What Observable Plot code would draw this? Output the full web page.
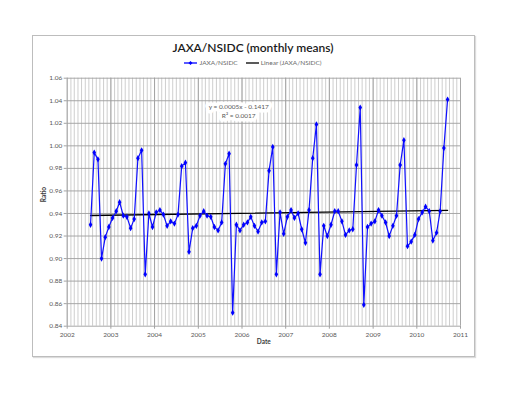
<!DOCTYPE html>
<html><head><meta charset="utf-8">
<script src="https://cdn.jsdelivr.net/npm/d3@7"></script>
<script src="https://cdn.jsdelivr.net/npm/@observablehq/plot@0.6"></script>
<style>
body{margin:0;background:#fff;}
#wrap{position:relative;width:512px;height:396px;font-family:Lato,"Open Sans",sans-serif;overflow:hidden;}
#frame{position:absolute;left:32px;top:35px;width:441px;height:320px;border:1px solid #bdbdbd;box-shadow:1px 1px 1px #dcdcdc;pointer-events:none;}
#title{position:absolute;left:0;width:506px;top:40px;text-align:center;font-size:12px;font-weight:600;color:#1a1a1a;}
#legend{position:absolute;left:0;width:506px;top:59px;text-align:center;font-size:6.5px;color:#6a6a6a;}
#legend span{display:inline-flex;align-items:center;margin:0 4px;}
#legend svg{margin-right:2px;}
</style></head><body><div id="wrap"><div id="title">JAXA/NSIDC (monthly means)</div>
<div id="legend"><span><svg width="13" height="6"><line x1="0" x2="13" y1="3" y2="3" stroke="#0000ff" stroke-width="1.3"/><path d="M6.5,1 L8.5,3 L6.5,5 L4.5,3Z" fill="#0000ff"/></svg>JAXA/NSIDC</span><span><svg width="13" height="6"><line x1="0" x2="13" y1="3" y2="3" stroke="#000" stroke-width="1.3"/></svg>Linear (JAXA/NSIDC)</span></div>
<div id="frame"></div></div>
<script>
// monthly series, July 2002 .. September 2010
const startYear = 2002;
const startMonth = 7;
const ratio = [
  0.930, 0.994, 0.988, 0.900, 0.919, 0.928,
  0.936, 0.942, 0.950, 0.938, 0.937, 0.927, 0.935, 0.989, 0.996, 0.886, 0.940, 0.928,
  0.941, 0.943, 0.939, 0.929, 0.933, 0.931, 0.939, 0.982, 0.985, 0.906, 0.927, 0.929,
  0.938, 0.942, 0.938, 0.937, 0.928, 0.925, 0.932, 0.984, 0.993, 0.852, 0.930, 0.925,
  0.930, 0.932, 0.937, 0.929, 0.924, 0.932, 0.933, 0.978, 0.999, 0.886, 0.941, 0.922,
  0.937, 0.943, 0.936, 0.940, 0.926, 0.914, 0.943, 0.989, 1.019, 0.886, 0.929, 0.920,
  0.930, 0.942, 0.942, 0.933, 0.921, 0.925, 0.926, 0.983, 1.034, 0.859, 0.928, 0.931,
  0.933, 0.943, 0.938, 0.932, 0.920, 0.929, 0.938, 0.983, 1.005, 0.911, 0.915, 0.921,
  0.935, 0.941, 0.946, 0.942, 0.916, 0.923, 0.942, 0.998, 1.041
];
const yTicks = [0.84, 0.86, 0.88, 0.90, 0.92, 0.94, 0.96, 0.98, 1.00, 1.02, 1.04, 1.06];
const xYears = [2002, 2003, 2004, 2005, 2006, 2007, 2008, 2009, 2010, 2011];
const equation = "y = 0.0005x - 0.1417\nR² = 0.0017";

const data = ratio.map((v, i) => ({date: new Date(Date.UTC(startYear, startMonth - 1 + i, 15)), ratio: v}));
const yearDates = xYears.map(y => new Date(Date.UTC(y, 0, 1)));
const monthDates = d3.utcMonth.range(yearDates[0], yearDates[yearDates.length - 1]);

// least squares trend
const xs = data.map(d => +d.date), ys = data.map(d => d.ratio);
const mx = d3.mean(xs), my = d3.mean(ys);
const slope = d3.sum(xs, (x, i) => (x - mx) * (ys[i] - my)) / d3.sum(xs, x => (x - mx) ** 2);
const trend = [data[0], data[data.length - 1]].map(d => ({date: d.date, ratio: my + slope * (+d.date - mx)}));

const grey = "#595959";
const chart = Plot.plot({
  width: 512, height: 396,
  marginLeft: 66.7, marginRight: 52, marginTop: 77.7, marginBottom: 70.3,
  style: {background: "transparent", fontFamily: "Lato, 'Open Sans', sans-serif", overflow: "visible"},
  x: {type: "utc", domain: [yearDates[0], yearDates[yearDates.length - 1]]},
  y: {domain: [0.84, 1.06]},
  marks: [
    Plot.ruleX(monthDates, {stroke: "#c8c8c8", strokeWidth: 0.9}),
    Plot.ruleX(yearDates, {stroke: "#9e9e9e", strokeWidth: 0.9}),
    Plot.ruleY(yTicks, {stroke: "#9e9e9e", strokeWidth: 0.9}),
    Plot.axisX({ticks: yearDates, tickFormat: d3.utcFormat("%Y"), tickSize: 3, tickPadding: 3, fontSize: 6.5, fill: grey, stroke: "#a3a3a3", label: null}),
    Plot.axisY({ticks: yTicks, tickFormat: d3.format(".2f"), tickSize: 3, tickPadding: 2, fontSize: 6.5, fill: grey, stroke: "#a3a3a3", label: null}),
    Plot.text(["Ratio"], {frameAnchor: "left", dx: -23, rotate: -90, fontSize: 6.5, fontWeight: "bold", fill: "#404040"}),
    Plot.text(["Date"], {frameAnchor: "bottom", dy: 17.5, fontSize: 6.5, fontWeight: "bold", fill: "#404040"}),
    Plot.line(trend, {x: "date", y: "ratio", stroke: "black", strokeWidth: 1.3}),
    Plot.line(data, {x: "date", y: "ratio", stroke: "#1010ff", strokeWidth: 1.2}),
    Plot.dot(data, {x: "date", y: "ratio", symbol: "diamond", r: 1.9, fill: "#0000ff"}),
    Plot.text([equation], {frameAnchor: "top-left", dx: 171.5, dy: 25.5, lineAnchor: "top", lineHeight: 1.25, textAnchor: "middle", fontSize: 6.5, fill: grey, stroke: "white", strokeWidth: 7, strokeLinejoin: "round"})
  ]
});
document.getElementById("wrap").prepend(chart);
chart.style.position = "absolute"; chart.style.left = "0"; chart.style.top = "0";
</script></body></html>
